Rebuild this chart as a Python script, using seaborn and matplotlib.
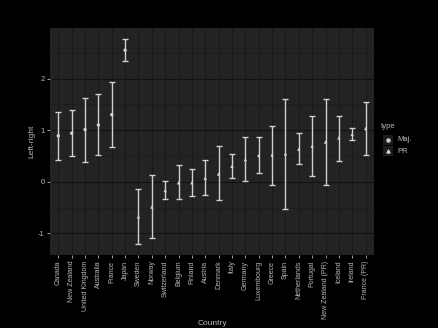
import numpy as np
import pandas as pd
import seaborn as sns
import matplotlib.pyplot as plt
from matplotlib.patches import Rectangle

countries = ["Canada", "New Zealand", "United Kingdom", "Australia", "France", "Japan",
             "Sweden", "Norway", "Switzerland", "Belgium", "Finland", "Austria",
             "Denmark", "Italy", "Germany", "Luxembourg", "Greece", "Spain",
             "Netherlands", "Portugal", "New Zealand (PR)", "Iceland", "Ireland", "France (PR)"]
means = [0.89, 0.94, 1.01, 1.10, 1.30, 2.55,
         -0.68, -0.49, -0.17, -0.02, -0.02, 0.07,
         0.15, 0.30, 0.43, 0.51, 0.52, 0.54,
         0.63, 0.69, 0.77, 0.85, 0.92, 1.03]
lower = [0.42, 0.50, 0.38, 0.51, 0.67, 2.34,
         -1.21, -1.10, -0.34, -0.34, -0.28, -0.26,
         -0.35, 0.08, 0.01, 0.17, -0.06, -0.53,
         0.34, 0.12, -0.06, 0.41, 0.81, 0.51]
upper = [1.35, 1.39, 1.63, 1.70, 1.94, 2.77,
         -0.15, 0.14, 0.01, 0.32, 0.25, 0.42,
         0.69, 0.53, 0.86, 0.86, 1.09, 1.61,
         0.94, 1.27, 1.61, 1.27, 1.05, 1.55]
types = ["Maj.", "Maj.", "Maj.", "Maj.", "Maj.", "Maj.",
         "PR", "PR", "PR", "PR", "PR", "PR",
         "PR", "PR", "PR", "PR", "PR", "PR",
         "PR", "PR", "PR", "PR", "PR", "PR"]

df = pd.DataFrame({"Country": countries, "mean": means, "lo": lower, "hi": upper, "type": types})
df["pos"] = np.arange(len(df))

sns.set_theme(style="dark")
plt.rcParams["font.family"] = ["Liberation Sans", "DejaVu Sans"]

FG = "#d0d0d0"
TXT = "#b8b8b8"
PANEL = "#232323"

fig = plt.figure(figsize=(4.39, 3.28), dpi=100, facecolor="black")
ax = fig.add_axes([50 / 439, 1 - 255 / 328, 324 / 439, 227 / 328])
ax.set_facecolor(PANEL)
for s in ax.spines.values():
    s.set_visible(False)

# grid: minor at half units, major at integers, verticals at categories
for v in np.arange(-1.5, 3.0, 1.0):
    ax.axhline(v, color="#1b1b1b", lw=0.5, zorder=0)
for v in [-1, 0, 1, 2]:
    ax.axhline(v, color="#111111", lw=0.8, zorder=0)
for p in df["pos"]:
    ax.axvline(p, color="#171717", lw=0.6, zorder=0)

# error bars with caps
ax.errorbar(df["pos"], df["mean"],
            yerr=[df["mean"] - df["lo"], df["hi"] - df["mean"]],
            fmt="none", ecolor=FG, elinewidth=1.0, capsize=2.3, capthick=1.0, zorder=2)

sns.scatterplot(data=df, x="pos", y="mean", style="type", markers={"Maj.": "o", "PR": "^"},
                color=FG, s=6, linewidth=0, ax=ax, zorder=3, legend=False)

ax.set_xlim(-0.62, 23.63)
ax.set_ylim(-1.42, 2.98)
ax.set_xticks(df["pos"])
ax.set_xticklabels(countries, rotation=90, fontsize=5, color=TXT)
ax.set_yticks([-1, 0, 1, 2])
ax.set_yticklabels(["-1", "0", "1", "2"], fontsize=5.5, color=TXT)
ax.tick_params(axis="both", which="both", length=2.5, width=0.6, color=TXT, pad=1.5,
               bottom=True, left=True)
ax.set_xlabel("Country", fontsize=6, color=TXT)
ax.set_ylabel("Left-right", fontsize=6, color=TXT)
ax.xaxis.set_label_coords(0.5, -0.285)
ax.yaxis.set_label_coords(-0.045, 0.5)

# legend
fig.text(381 / 439, 1 - 127 / 328, "type", fontsize=5.5, color=TXT, va="center", ha="left")
for i, (lab, mk) in enumerate([("Maj.", "o"), ("PR", "^")]):
    yc = 1 - (140 + 11 * i) / 328
    fig.patches.append(Rectangle((383 / 439, yc - 5 / 328), 10 / 439, 10 / 328,
                                 transform=fig.transFigure, facecolor="#1c1c1c",
                                 edgecolor="none", zorder=1))
    fig.lines.append(plt.Line2D([388 / 439], [yc], marker=mk, markersize=2.2, color=FG,
                                linestyle="none", transform=fig.transFigure))
    fig.text(397 / 439, yc, lab, fontsize=5.5, color=TXT, va="center", ha="left")

fig.savefig("out.png", dpi=100, facecolor="black")
